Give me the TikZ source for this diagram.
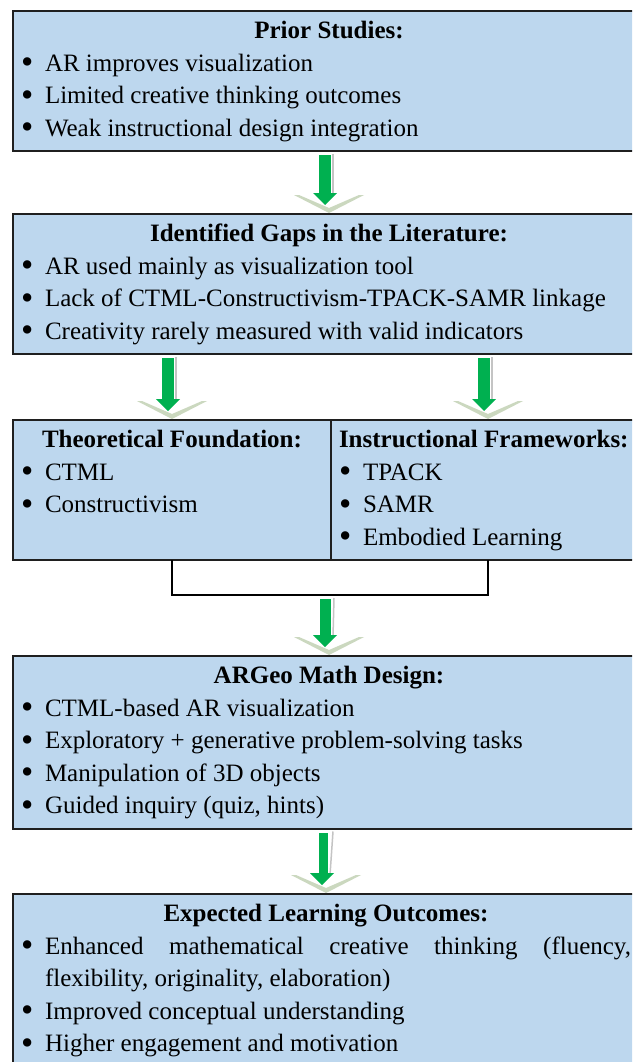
\documentclass[tikz,border=0pt]{standalone}
\usepackage{fontspec}
\setmainfont{Liberation Serif}
\usetikzlibrary{calc}
\tolerance=10000
\hyphenpenalty=10000
\exhyphenpenalty=10000

\definecolor{boxblue}{HTML}{BDD7EE}
\definecolor{boxline}{HTML}{1F1F1F}
\definecolor{arrowgreen}{HTML}{00B050}
\definecolor{chevron}{HTML}{CBD8BF}
\definecolor{shaftedge}{HTML}{C4C4C4}

\newcommand{\boxtitle}[1]{\centerline{\strut\textbf{#1}}}
\newcommand{\itm}{\par\noindent\hangindent=24pt\hangafter=1%
  \makebox[24pt][l]{\raisebox{-2.5pt}{\scalebox{1.4}{\textbullet}}}\strut}

% block arrow between two boxes: #1 upper end, #2 lower end
\newcommand{\flowarrow}[2]{%
  \fill[chevron] ($(#2)+(-35,19)$) -- ($(#2)+(0,1)$) -- ($(#2)+(35,19)$)
    -- ($(#2)+(30,19)$) -- ($(#2)+(0,6)$) -- ($(#2)+(-30,19)$) -- cycle;
  \draw[shaftedge, line width=1.5pt] ($(#1)+(4,-3)$) -- ($(#2)+(4,19)$);
  \fill[arrowgreen] ($(#1)+(-10,-4)$) rectangle ($(#2)+(2,20)$);
  \fill[arrowgreen] ($(#2)+(-16,21)$) -- ($(#2)+(8,21)$) -- ($(#2)+(-4,9)$) -- cycle;
}

\tikzset{
  infobox/.style={draw=boxline, fill=boxblue, line width=2pt,
    inner xsep=8pt, inner ysep=5pt, outer sep=0pt, anchor=north west,
    text width=#1, align=justify, font=\fontsize{25}{32.5}\selectfont},
  infobox/.default=616pt,
  bracket/.style={draw=black, line width=2.5pt}
}

\begin{document}
\begin{tikzpicture}[x=1pt, y=1pt]
  \useasboundingbox (0,0) rectangle (632,-1062);
  \fill[white] (0,0) rectangle (632,-1062);
  \clip (0,0) rectangle (632,-1062);

  \node[infobox] (prior) at (13,-11) {%
    \boxtitle{Prior Studies:}
    \itm AR improves visualization
    \itm Limited creative thinking outcomes
    \itm Weak instructional design integration\par};

  \node[infobox] (gaps) at (13,-214) {%
    \boxtitle{Identified Gaps in the Literature:}
    \itm AR used mainly as visualization tool
    \itm Lack of CTML-Constructivism-TPACK-SAMR linkage
    \itm Creativity rarely measured with valid indicators\par};

  \node[infobox=302pt] (found) at (13,-420) {%
    \boxtitle{Theoretical Foundation:}
    \itm CTML
    \itm Constructivism
    \par\noindent\strut\par};

  \node[infobox=298pt] (frame) at (331,-420) {%
    \noindent\strut\textbf{Instructional Frameworks:}
    \itm TPACK
    \itm SAMR
    \itm Embodied Learning\par};

  \node[infobox] (design) at (13,-656) {%
    \boxtitle{ARGeo Math Design:}
    \itm CTML-based AR visualization
    \itm Exploratory + generative problem-solving tasks
    \itm Manipulation of 3D objects
    \itm Guided inquiry (quiz, hints)\par};

  \node[infobox=610pt] (outcome) at (13,-894) {%
    \boxtitle{Expected Learning Outcomes:}
    \itm Enhanced mathematical creative thinking (fluency, flexibility, originality, elaboration)
    \itm Improved conceptual understanding
    \itm Higher engagement and motivation\par};

  % joining bracket under the two frameworks
  \draw[bracket] (found.south) -- ++(0,-35) -| (frame.south);
  \coordinate (join) at ($(found.south)!0.5!(frame.south)+(0,-35)$);
  \coordinate (gapsleft) at (found.north |- gaps.south);
  \coordinate (gapsright) at (frame.north |- gaps.south);

  \flowarrow{prior.south}{gaps.north}
  \flowarrow{gapsleft}{found.north}
  \flowarrow{gapsright}{frame.north}
  \flowarrow{join}{design.north}
  \flowarrow{design.south}{outcome.north}
\end{tikzpicture}
\end{document}
